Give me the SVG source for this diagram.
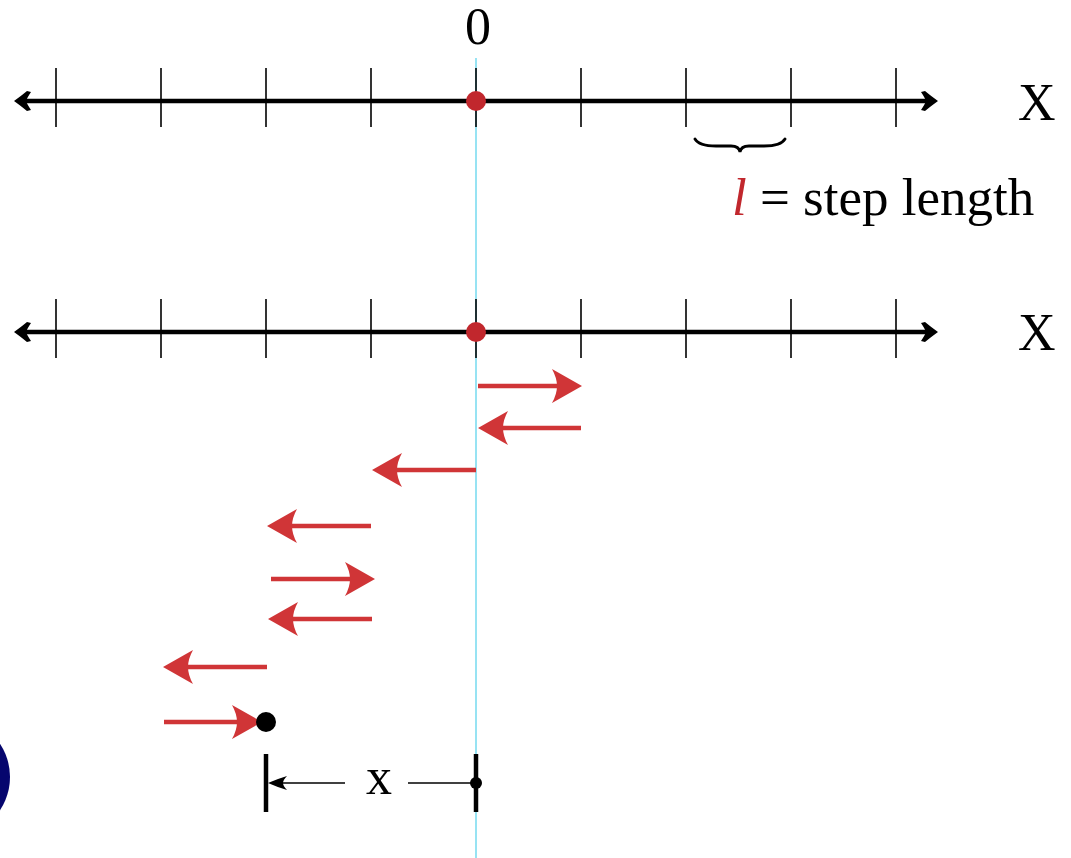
<svg xmlns="http://www.w3.org/2000/svg" width="1071" height="858" viewBox="0 0 1071 858">
<style>
.axis{stroke:#000;stroke-width:4.5;fill:none}
.tick{stroke:#000;stroke-width:1.6}
.red{stroke:#d03537;stroke-width:4.5;fill:none}
.rh{fill:#d03537}
.lbl{font-family:"Liberation Serif","Times New Roman",serif;font-size:52px;fill:#000}
.thin{stroke:#000;stroke-width:1.6;fill:none}
</style>
<defs>
<path id="rhead" d="M0,0 L-30,-17 Q-25,-8 -25,0 Q-25,8 -30,17 Z"/>
<path id="ahead" d="M0,0 Q7,-5 13,-10 L17,-9 Q13,-3 12,0 Q13,3 17,9 L13,10 Q7,5 0,0 Z"/>
<g id="ticks">
<line class="tick" x1="56" y1="-33" x2="56" y2="26"/>
<line class="tick" x1="161" y1="-33" x2="161" y2="26"/>
<line class="tick" x1="266" y1="-33" x2="266" y2="26"/>
<line class="tick" x1="371" y1="-33" x2="371" y2="26"/>
<line class="tick" x1="476" y1="-33" x2="476" y2="26"/>
<line class="tick" x1="581" y1="-33" x2="581" y2="26"/>
<line class="tick" x1="686" y1="-33" x2="686" y2="26"/>
<line class="tick" x1="791" y1="-33" x2="791" y2="26"/>
<line class="tick" x1="896" y1="-33" x2="896" y2="26"/>
</g>
</defs>
<circle id="blue-disc" cx="-50" cy="777" r="60" fill="#06066e"/>
<line id="origin-line" x1="476" y1="58" x2="476" y2="858" stroke="#7ddcf0" stroke-width="1.6"/>
<g id="axis-top">
<line class="axis" x1="24" y1="101" x2="928" y2="101"/>
<use href="#ticks" transform="translate(0,101)"/>
<use href="#ahead" transform="translate(14,101)"/>
<use href="#ahead" transform="translate(938,101) scale(-1,1)"/>
<circle cx="476" cy="101" r="10" fill="#c1272d"/>
<text class="lbl" x="478" y="44" text-anchor="middle">0</text>
<text class="lbl" x="1018" y="120">X</text>
</g>
<g id="step-brace">
<path d="M695,139 Q699,146 716,146 L731,146 Q739,146 740,152 Q741,146 749,146 L764,146 Q781,146 785,139" stroke="#000" stroke-width="2.8" fill="none" stroke-linecap="round"/>
<text class="lbl" x="732" y="215" style="font-size:53px"><tspan fill="#c1272d" font-style="italic">l</tspan> = step length</text>
</g>
<g id="axis-bottom">
<line class="axis" x1="24" y1="332" x2="928" y2="332"/>
<use href="#ticks" transform="translate(0,332)"/>
<use href="#ahead" transform="translate(14,332)"/>
<use href="#ahead" transform="translate(938,332) scale(-1,1)"/>
<circle cx="476" cy="332" r="10" fill="#c1272d"/>
<text class="lbl" x="1018" y="350">X</text>
</g>
<g id="steps">
<line class="red" x1="478" y1="386" x2="560" y2="386"/><use class="rh" href="#rhead" transform="translate(582,386)"/>
<line class="red" x1="581" y1="428" x2="500" y2="428"/><use class="rh" href="#rhead" transform="translate(478,428) scale(-1,1)"/>
<line class="red" x1="476" y1="470" x2="394" y2="470"/><use class="rh" href="#rhead" transform="translate(372,470) scale(-1,1)"/>
<line class="red" x1="371" y1="526" x2="289" y2="526"/><use class="rh" href="#rhead" transform="translate(267,526) scale(-1,1)"/>
<line class="red" x1="271" y1="579" x2="353" y2="579"/><use class="rh" href="#rhead" transform="translate(375,579)"/>
<line class="red" x1="372" y1="619" x2="290" y2="619"/><use class="rh" href="#rhead" transform="translate(268,619) scale(-1,1)"/>
<line class="red" x1="267" y1="667" x2="185" y2="667"/><use class="rh" href="#rhead" transform="translate(163,667) scale(-1,1)"/>
<line class="red" x1="164" y1="722" x2="240" y2="722"/><use class="rh" href="#rhead" transform="translate(262,722)"/>
<circle cx="266" cy="722" r="10" fill="#000"/>
</g>
<g id="measure">
<line x1="266" y1="754" x2="266" y2="812" stroke="#000" stroke-width="4.5"/>
<line x1="476" y1="754" x2="476" y2="812" stroke="#000" stroke-width="4.5"/>
<circle cx="476" cy="783" r="6" fill="#000"/>
<line class="thin" x1="280" y1="783" x2="345" y2="783"/>
<path d="M268,783 Q277,779 287,776 Q283,780 283,783 Q283,786 287,790 Q277,787 268,783 Z" fill="#000"/>
<line class="thin" x1="408" y1="783" x2="476" y2="783"/>
<text class="lbl" x="379" y="794" text-anchor="middle">x</text>
</g>
</svg>
